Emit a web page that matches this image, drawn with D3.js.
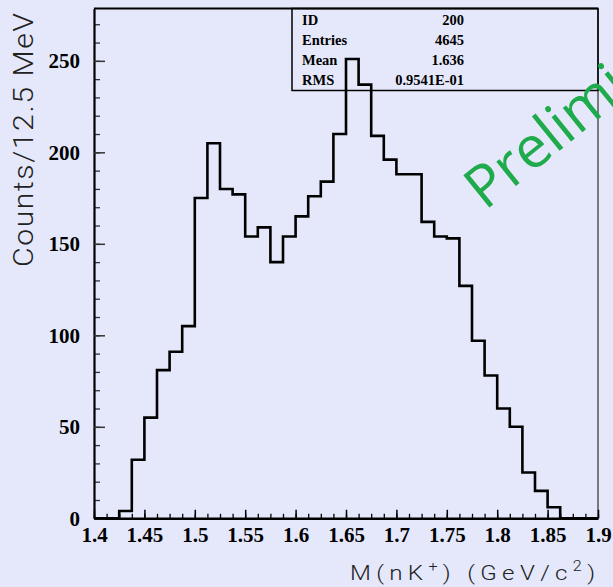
<!DOCTYPE html>
<html>
<head>
<meta charset="utf-8">
<script src="https://cdn.jsdelivr.net/npm/d3@7"></script>
<style>
body { margin: 0; background: #e5e8fb; }
.tick text { font-family: "Liberation Serif", "Times New Roman", serif; font-weight: bold; font-size: 21px; fill: #000; }
.stats text { font-family: "Liberation Serif", "Times New Roman", serif; font-weight: bold; font-size: 14.5px; }
.title { font-family: "Roboto", "DejaVu Sans", sans-serif; font-weight: 300; fill: #222; }
</style>
</head>
<body>
<div class="content"></div>
<script>
var width = 613
var height = 587

// counts per 12.5 MeV bin, 1.4 -> 1.9 GeV/c2
var binLow = 1.4
var binWidth = 0.0125
var counts = [0, 0, 4, 32, 55, 81, 91, 105, 175, 205,
    180, 177, 154, 159, 140, 154, 165, 176, 184, 210,
    251, 237, 209, 196, 188, 188, 162, 154, 153, 127,
    97, 78, 60, 50, 25, 15, 6, 0, 0, 0]

var xTicks = [1.4, 1.45, 1.5, 1.55, 1.6, 1.65, 1.7, 1.75, 1.8, 1.85, 1.9]
var xTickLabels = ['1.4', '1.45', '1.5', '1.55', '1.6', '1.65', '1.7', '1.75', '1.8', '1.85', '1.9']
var yTicks = [0, 50, 100, 150, 200, 250]

var statNames = ['ID', 'Entries', 'Mean', 'RMS']
var statValues = ['200', '4645', '1.636', '0.9541E-01']

var margin = { top: 8.5, right: 15, bottom: 68.7, left: 94 }

var x = d3.scaleLinear()
    .domain([1.4, 1.9])
    .range([margin.left, width - margin.right])

var y = d3.scaleLinear()
    .domain([0, 278.6])
    .range([height - margin.bottom, margin.top])

var svg = d3.select('.content').append('svg')
    .attr('width', width)
    .attr('height', height)
    .style('display', 'block')

// frame (top + right)
svg.append('line')
    .attr('x1', x(1.4)).attr('x2', x(1.9))
    .attr('y1', y.range()[1]).attr('y2', y.range()[1])
    .attr('stroke', '#000').attr('stroke-width', 2)
svg.append('line')
    .attr('x1', x(1.9)).attr('x2', x(1.9))
    .attr('y1', y.range()[1]).attr('y2', y.range()[0])
    .attr('stroke', '#555').attr('stroke-width', 1.5)

// minor ticks
var xMinor = d3.range(0, 41).map(function(i) { return 1.4 + i * 0.0125 })
var yMinor = d3.range(0, 28).map(function(i) { return i * 10 })

svg.append('g')
    .attr('transform', 'translate(0,' + y(0) + ')')
    .call(d3.axisBottom(x).tickValues(xMinor).tickSize(-4.5).tickFormat(''))
    .call(function(g) { g.select('.domain').remove() })
    .selectAll('line').attr('stroke-width', 1.3)

svg.append('g')
    .attr('transform', 'translate(' + x(1.4) + ',0)')
    .call(d3.axisLeft(y).tickValues(yMinor).tickSize(-6).tickFormat(''))
    .call(function(g) { g.select('.domain').remove() })
    .selectAll('line').attr('stroke', '#333').attr('stroke-width', 1.3)

// major ticks + labels
var xAxis = svg.append('g')
    .attr('transform', 'translate(0,' + y(0) + ')')
    .call(d3.axisBottom(x).tickValues(xTicks).tickSizeInner(-8.5).tickSizeOuter(0).tickPadding(9)
        .tickFormat(function(d, i) { return xTickLabels[i] }))
xAxis.select('.domain').attr('stroke-width', 2.5)
xAxis.selectAll('line').attr('stroke-width', 1.5)

var yAxis = svg.append('g')
    .attr('transform', 'translate(' + x(1.4) + ',0)')
    .call(d3.axisLeft(y).tickValues(yTicks).tickSizeInner(-11).tickSizeOuter(0).tickPadding(14))
yAxis.select('.domain').attr('stroke-width', 2.2)
yAxis.selectAll('line').attr('stroke', '#333').attr('stroke-width', 1.5)

// histogram outline
var pts = counts.map(function(c, i) { return [binLow + i * binWidth, c] })
pts.push([binLow + counts.length * binWidth, counts[counts.length - 1]])

var line = d3.line()
    .x(function(d) { return x(d[0]) })
    .y(function(d) { return y(d[1]) })
    .curve(d3.curveStepAfter)

svg.append('path')
    .datum(pts)
    .attr('d', line)
    .attr('fill', 'none')
    .attr('stroke', '#000')
    .attr('stroke-width', 2.6)

// stats box
var stats = svg.append('g').attr('class', 'stats')
stats.append('rect')
    .attr('x', 292).attr('y', 8.5)
    .attr('width', x(1.9) - 292).attr('height', 82)
    .attr('fill', 'none').attr('stroke', '#000').attr('stroke-width', 1.5)
stats.selectAll('.name')
    .data(statNames)
    .enter().append('text')
    .attr('x', 302)
    .attr('y', function(d, i) { return 25 + i * 20 })
    .text(function(d) { return d })
stats.selectAll('.val')
    .data(statValues)
    .enter().append('text')
    .attr('x', 464)
    .attr('y', function(d, i) { return 25 + i * 20 })
    .attr('text-anchor', 'end')
    .text(function(d) { return d })

// axis titles (PAW's wide stroke font -> stretch a little)
svg.append('text')
    .attr('class', 'title')
    .attr('transform', 'translate(33,140) rotate(-90) scale(1.12,1)')
    .attr('text-anchor', 'middle')
    .attr('font-size', 27)
    .attr('textLength', 254 / 1.12)
    .attr('lengthAdjust', 'spacing')
    .text('Counts/12.5 MeV')

var xt = svg.append('text')
    .attr('class', 'title')
    .attr('transform', 'translate(350,580) scale(1.15,1)')
    .attr('font-size', 21)
    .attr('textLength', 245 / 1.15)
    .attr('lengthAdjust', 'spacing')
xt.append('tspan').text('M(nK')
xt.append('tspan').attr('dy', -9).attr('font-size', 14).text('+')
xt.append('tspan').attr('dy', 9).text(') (GeV/c')
xt.append('tspan').attr('dy', -9).attr('font-size', 14).text('2')
xt.append('tspan').attr('dy', 9).text(')')

// watermark
svg.append('text')
    .attr('transform', 'translate(485,211) rotate(-39)')
    .attr('font-family', '"Open Sans", "DejaVu Sans", sans-serif')
    .attr('font-size', 58)
    .attr('fill', '#1faa4b')
    .text('Preliminary')
</script>
</body>
</html>
